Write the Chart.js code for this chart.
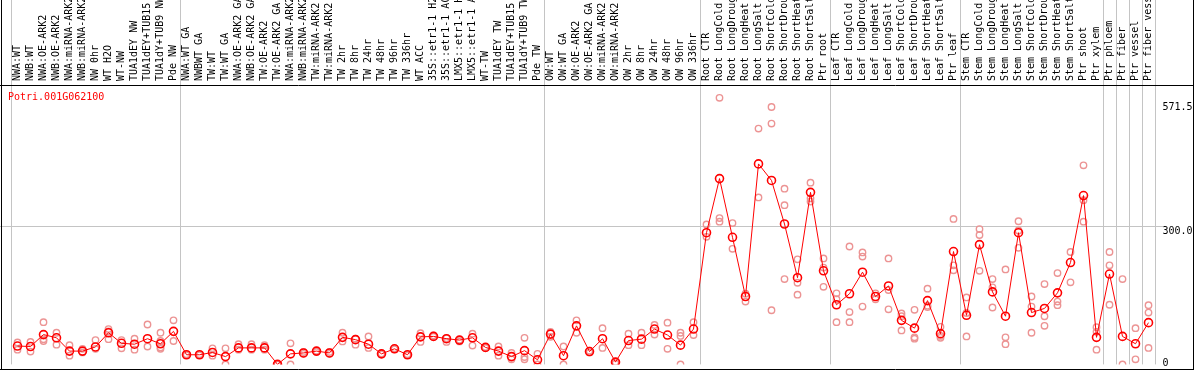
<!DOCTYPE html>
<html>
<head>
<meta charset="utf-8">
<script src="https://cdn.jsdelivr.net/npm/chart.js@4.4.1/dist/chart.umd.min.js"></script>
<style>
    html, body { margin: 0; padding: 0; background: #fff; }
    #wrap { width: 1194px; height: 370px; }
</style>
</head>
<body>
<div id="wrap"><canvas id="expr" width="1194" height="370"></canvas></div>
<script>
// Sample labels (top axis)
const labels = [
    'NWA:WT', 'NWB:WT', 'NWA:OE-ARK2', 'NWB:OE-ARK2', 'NWA:miRNA-ARK2', 'NWB:miRNA-ARK2', 'NW 0hr', 'WT H2O', 'WT-NW', 'TUA1dEY NW',
    'TUA1dEY+TUB15 NW', 'TUA1dY+TUB9 NW', 'Pde NW', 'NWA:WT GA', 'NWBWT GA', 'TW:WT', 'TW:WT GA', 'NWA:OE-ARK2 GA', 'NWB:OE-ARK2 GA', 'TW:OE-ARK2',
    'TW:OE-ARK2 GA', 'NWA:miRNA-ARK2 GA', 'NWB:miRNA-ARK2 GA', 'TW:miRNA-ARK2', 'TW:miRNA-ARK2 GA', 'TW 2hr', 'TW 8hr', 'TW 24hr', 'TW 48hr', 'TW 96hr',
    'TW 336hr', 'WT ACC', '35S::etr1-1 H2O', '35S::etr1-1 ACC', 'LMX5::etr1-1 H2O', 'LMX5::etr1-1 ACC', 'WT-TW', 'TUA1dEY TW', 'TUA1dEY+TUB15 TW', 'TUA1dY+TUB9 TW',
    'Pde TW', 'OW:WT', 'OW:WT GA', 'OW:OE-ARK2', 'OW:OE-ARK2 GA', 'OW:miRNA-ARK2', 'OW:miRNA-ARK2 GA', 'OW 2hr', 'OW 8hr', 'OW 24hr',
    'OW 48hr', 'OW 96hr', 'OW 336hr', 'Root CTR', 'Root LongCold', 'Root LongDrought', 'Root LongHeat', 'Root LongSalt', 'Root ShortCold', 'Root ShortDrought',
    'Root ShortHeat', 'Root ShortSalt', 'Ptr root', 'Leaf CTR', 'Leaf LongCold', 'Leaf LongDrought', 'Leaf LongHeat', 'Leaf LongSalt', 'Leaf ShortCold', 'Leaf ShortDrought',
    'Leaf ShortHeat', 'Leaf ShortSalt', 'Ptr leaf', 'Stem CTR', 'Stem LongCold', 'Stem LongDrought', 'Stem LongHeat', 'Stem LongSalt', 'Stem ShortCold', 'Stem ShortDrought',
    'Stem ShortHeat', 'Stem ShortSalt', 'Ptr shoot', 'Ptr xylem', 'Ptr phloem', 'Ptr fiber', 'Ptr vessel', 'Ptr fiber vessel'
];

// mean expression per sample
const means = [
    40, 39, 65, 58, 29, 29, 38, 69, 46, 44,
    56, 45, 72, 21, 21, 26, 17, 36, 36, 36,
    0, 23, 25, 29, 25, 59, 54, 44, 23, 34,
    21, 60, 61, 56, 53, 58, 37, 29, 17, 30,
    10, 66, 19, 84, 28, 56, 5, 52, 55, 77,
    64, 42, 77, 287, 405, 277, 148, 437, 401, 306,
    189, 375, 204, 130, 154, 201, 148, 171, 96, 79,
    139, 67, 246, 107, 261, 158, 105, 287, 113, 122,
    156, 222, 368, 59, 197, 61, 45, 91
];

// replicates
const rep1 = [
    48, 49, 92, 69, 42, 34, 53, 77, 53, 56,
    87, 69, 96, 22, 22, 35, 35, 44, 44, 42,
    0, 46, 27, 30, 27, 69, 56, 61, 24, 35,
    22, 68, 63, 57, 54, 67, 38, 39, 25, 58,
    23, 71, 39, 96, 30, 79, 6, 67, 69, 86,
    91, 69, 92, 305, 581, 308, 154, 514, 561, 383,
    229, 396, 231, 155, 257, 244, 155, 231, 111, 119,
    165, 82, 317, 146, 295, 186, 207, 312, 148, 175,
    199, 245, 434, 81, 245, 186, 79, 129
];
const rep2 = [
    32, 28, 51, 43, 19, 26, 34, 72, 35, 32,
    39, 51, 51, 20, 20, 19, 0, 32, 32, 32,
    0, 0, 23, 27, 23, 50, 43, 36, 22, 33,
    20, 49, 60, 49, 50, 41, 36, 19, 11, 16,
    0, 60, 0, 69, 26, 36, 2, 42, 42, 65,
    34, 62, 64, 278, 319, 252, 137, 364, 525, 347,
    178, 362, 211, 142, 114, 235, 142, 162, 105, 59,
    128, 62, 216, 112, 282, 168, 59, 292, 126, 105,
    137, 179, 358, 71, 216, 0, 11, 113
];
const rep3 = [
    null, null, 55, null, null, null, null, 55, null, null,
    null, 37, null, null, null, null, null, null, null, null,
    null, null, null, null, null, null, null, null, null, null,
    null, null, null, null, null, null, null, null, null, 11,
    null, null, null, null, null, null, null, null, null, null,
    null, 0, null, null, 311, null, null, null, 118, 186,
    152, 355, 169, 92, 92, 126, null, 120, 74, 56,
    125, 58, 205, 61, 204, 124, 44, 254, 69, 84,
    129, null, 311, 32, 130, null, null, 36
];
const rep4 = [
    null, null, null, null, null, null, null, null, null, null,
    null, 34, null, null, null, null, null, null, null, null,
    null, null, null, null, null, null, null, null, null, null,
    null, null, null, null, null, null, null, null, null, null,
    null, null, null, null, null, null, null, null, null, null,
    null, null, null, null, null, null, null, null, null, null,
    null, null, null, null, null, null, null, null, null, null,
    null, null, null, null, null, null, null, null, null, null,
    null, null, null, null, null, null, null, null
];

// group separators (index of first sample after the line; 88 = end)
const separators = [0, 13, 41, 53, 63, 73, 84, 85, 86, 87, 88];
const yTicks = [0, 300, 571.5];
const yTickLabels = ['0', '300.0', '571.5'];
const geneId = 'Potri.001G062100';

const MONO = 'DejaVu Sans Mono';
const RED = '#ff0000';
const PINK = '#ec9494';
const GRID = '#c4c4c4';
const CLEAR = 'rgba(0,0,0,0)';

function repSet(values) {
    return {
        data: values,
        showLine: false,
        pointStyle: 'circle',
        pointRadius: 3.2,
        pointBorderWidth: 1.4,
        pointBorderColor: PINK,
        pointBackgroundColor: CLEAR
    };
}

// frame, gene name and right-hand value labels
const decorations = {
    id: 'decorations',
    afterDraw(chart) {
        const ctx = chart.ctx;
        const y = chart.scales.y;
        ctx.save();
        ctx.strokeStyle = '#000';
        ctx.lineWidth = 1;
        ctx.beginPath();
        ctx.moveTo(0, 85.5); ctx.lineTo(1194, 85.5);
        ctx.moveTo(1.5, 0); ctx.lineTo(1.5, 370);
        ctx.moveTo(1193.5, 0); ctx.lineTo(1193.5, 370);
        ctx.moveTo(0, 369.5); ctx.lineTo(1194, 369.5);
        ctx.stroke();

        ctx.font = `10px "${MONO}"`;
        ctx.textBaseline = 'alphabetic';
        ctx.textAlign = 'left';
        ctx.fillStyle = RED;
        ctx.fillText(geneId, 8, 99.5);

        ctx.fillStyle = '#000';
        yTicks.forEach((v, i) => {
            const py = y.getPixelForValue(v);
            ctx.fillText(yTickLabels[i], 1162.5, Math.min(py + 7.5, 366));
        });
        ctx.restore();
    }
};

const yScale = (pos, width, tickLen) => ({
    position: pos,
    min: 0,
    max: 609,
    afterBuildTicks: s => { s.ticks = yTicks.map(v => ({ value: v })); },
    afterFit: s => { s.width = width; },
    grid: {
        color: c => (c.tick && c.tick.value === 300 ? GRID : CLEAR),
        drawTicks: true,
        tickLength: tickLen
    },
    border: { display: false },
    ticks: { display: false }
});

new Chart(document.getElementById('expr'), {
    type: 'line',
    data: {
        labels: labels,
        datasets: [
            {
                data: means,
                borderColor: RED,
                borderWidth: 1,
                tension: 0,
                pointStyle: 'circle',
                pointRadius: 4,
                pointBorderWidth: 1.6,
                pointBorderColor: RED,
                pointBackgroundColor: CLEAR
            },
            repSet(rep1),
            repSet(rep2),
            repSet(rep3),
            repSet(rep4)
        ]
    },
    options: {
        responsive: false,
        animation: false,
        events: [],
        layout: { padding: { left: 0, right: 0, top: 0, bottom: 1 } },
        plugins: {
            legend: { display: false },
            tooltip: { enabled: false }
        },
        scales: {
            x: {
                position: 'top',
                offset: true,
                afterFit: s => { s.height = 85; },
                grid: {
                    offset: true,
                    color: c => (c.type !== 'tick' || separators.includes(c.index) ? GRID : CLEAR),
                    drawTicks: true,
                    tickLength: 85
                },
                border: { display: false },
                ticks: {
                    autoSkip: false,
                    minRotation: 90,
                    maxRotation: 90,
                    padding: -81,
                    labelOffset: 12,
                    color: '#000',
                    font: { family: MONO, size: 10 }
                }
            },
            y: yScale('right', 39, 8),
            yl: yScale('left', 11, 11)
        }
    },
    plugins: [decorations]
});
</script>
</body>
</html>
